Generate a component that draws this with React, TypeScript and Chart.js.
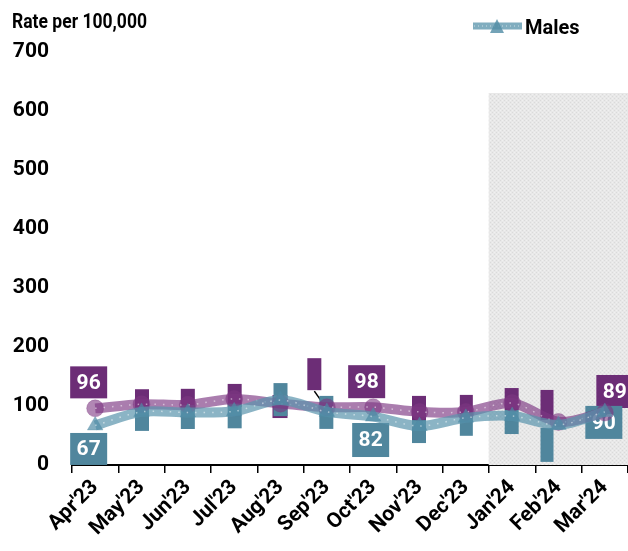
import React, { useEffect, useRef } from "react";
import { Chart, registerables } from "chart.js";

Chart.register(...registerables);

const months = ["Apr'23", "May'23", "Jun'23", "Jul'23", "Aug'23", "Sep'23", "Oct'23", "Nov'23", "Dec'23", "Jan'24", "Feb'24", "Mar'24"];
const femalesRate = [96, 103, 102, 112, 104, 98, 98, 90, 90, 105, 73, 89];
const malesRate = [67, 90, 89, 91, 110, 90, 82, 66, 80, 83, 68, 90];
const shadedPeriod = [null, null, null, null, null, null, null, null, null, 630, 630, 630];
const yTicks = [0, 100, 200, 300, 400, 500, 600, 700];
const labelledPoints = [0, 6, 11];

const FONT = "Roboto, 'Liberation Sans', sans-serif";
const PURPLE_BOX = "rgb(108,45,118)";
const TEAL_BOX = "rgb(80,134,157)";

// label box placement relative to point centre: [dx, dy, w, h]
const purpleBoxes: number[][] = [
  [-25, -42, 37, 32], [-6.5, -15, 14, 23], [-7, -16, 14, 23], [-6.5, -15, 14, 23],
  [-8, -8.6, 15, 23], [-19.5, -49, 14, 32], [-25, -42, 37, 33], [-7.5, -16, 14, 26],
  [-6, -17, 13, 24], [-7.5, -15, 14, 22], [-18, -32, 13, 30], [-8.5, -37.5, 37, 33],
];
const tealBoxes: number[][] = [
  [-25, 7.5, 37, 32], [-6.5, -5, 14, 24], [-7, -7.5, 14, 24], [-6.5, -8, 14, 25],
  [-7, -17, 14, 33], [-7.5, -16, 14, 33], [-21, 6.4, 37, 34], [-7.5, -6, 14, 23],
  [-6, -3, 13, 21], [-7.5, -6, 14, 24], [-18, 3, 13, 34], [-19.5, -6, 37, 33],
];

function makePattern(): CanvasPattern | string {
  const c = document.createElement("canvas");
  c.width = 4;
  c.height = 4;
  const g = c.getContext("2d");
  if (!g) return "#e8e8e8";
  g.fillStyle = "#e8e8e8";
  g.fillRect(0, 0, 4, 4);
  g.fillStyle = "#dadada";
  g.fillRect(0, 0, 1, 1);
  g.fillRect(2, 2, 1, 1);
  g.fillStyle = "#f0f0f0";
  g.fillRect(2, 0, 1, 1);
  g.fillRect(0, 2, 1, 1);
  const p = g.createPattern(c, "repeat");
  return p || "#e8e8e8";
}

const boxPlugin = {
  id: "boxLabels",
  beforeDatasetDraw(chart: any, args: any) {
    if (args.index !== 1) return; // just before the purple line (after the shading)
    const ctx = chart.ctx;
    const pMeta = chart.getDatasetMeta(1);
    const tMeta = chart.getDatasetMeta(3);
    ctx.save();
    const drawSet = (meta: any, boxes: number[][], color: string, values: number[]) => {
      meta.data.forEach((pt: any, i: number) => {
        const b = boxes[i];
        ctx.fillStyle = color;
        ctx.fillRect(pt.x + b[0], pt.y + b[1], b[2], b[3]);
        if (labelledPoints.includes(i)) {
          ctx.fillStyle = "#ffffff";
          ctx.font = `bold 21px ${FONT}`;
          ctx.textAlign = "center";
          ctx.textBaseline = "middle";
          ctx.fillText(String(values[i]), pt.x + b[0] + b[2] / 2, pt.y + b[1] + b[3] / 2 + 1);
        }
      });
    };
    drawSet(pMeta, purpleBoxes, PURPLE_BOX, femalesRate);
    const sp = pMeta.data[5];
    ctx.strokeStyle = "#000";
    ctx.lineWidth = 1.5;
    ctx.beginPath();
    ctx.moveTo(sp.x - 12.5, sp.y - 16);
    ctx.lineTo(sp.x - 0.5, sp.y + 1);
    ctx.stroke();
    drawSet(tMeta, tealBoxes, TEAL_BOX, malesRate);
    ctx.restore();
  },
  afterDraw(chart: any) {
    const ctx = chart.ctx;
    ctx.save();
    ctx.fillStyle = "#000";
    ctx.font = `bold 20px ${FONT}`;
    ctx.textAlign = "left";
    ctx.textBaseline = "alphabetic";
    const title = "Rate per 100,000";
    const tw = ctx.measureText(title).width;
    ctx.save();
    ctx.translate(12, 28);
    ctx.scale(135 / tw, 1.05);
    ctx.fillText(title, 0, 0);
    ctx.restore();
    // legend
    ctx.strokeStyle = "rgba(85,145,170,0.75)";
    ctx.lineWidth = 7;
    ctx.beginPath();
    ctx.moveTo(473, 26);
    ctx.lineTo(522, 26);
    ctx.stroke();
    ctx.strokeStyle = "rgba(255,255,255,0.6)";
    ctx.lineWidth = 1;
    ctx.setLineDash([1, 3]);
    ctx.beginPath();
    ctx.moveTo(474, 26);
    ctx.lineTo(521, 26);
    ctx.stroke();
    ctx.setLineDash([]);
    ctx.fillStyle = "rgba(80,140,165,0.8)";
    ctx.beginPath();
    ctx.moveTo(497, 19);
    ctx.lineTo(504, 33);
    ctx.lineTo(490, 33);
    ctx.closePath();
    ctx.fill();
    ctx.fillStyle = "#000";
    ctx.fillText("Males", 525, 34);
    ctx.restore();
  },
};

export default function App() {
  const ref = useRef<HTMLCanvasElement>(null);
  useEffect(() => {
    if (!ref.current) return;
    const pattern = makePattern();
    const chart = new Chart(ref.current, {
      type: "line",
      data: {
        labels: months,
        datasets: [
          {
            type: "bar",
            label: "shade",
            data: shadedPeriod as any,
            backgroundColor: pattern as any,
            barPercentage: 1,
            categoryPercentage: 1,
            order: 5,
          } as any,
          {
            label: "Females",
            data: femalesRate,
            borderColor: "rgba(125,55,130,0.65)",
            borderWidth: 10,
            tension: 0.3,
            pointStyle: "circle",
            pointRadius: 8.5,
            pointBackgroundColor: "rgba(125,55,130,0.6)",
            pointBorderColor: "rgba(125,55,130,0.3)",
            pointBorderWidth: 1,
            order: 4,
          },
          {
            label: "Females dots",
            data: femalesRate,
            borderColor: "rgba(255,255,255,0.5)",
            borderWidth: 1.5,
            borderDash: [1.5, 7],
            tension: 0.3,
            pointRadius: 0,
            order: 3,
          },
          {
            label: "Males",
            data: malesRate,
            borderColor: "rgba(90,148,172,0.7)",
            borderWidth: 10,
            tension: 0.3,
            pointStyle: "triangle",
            pointRadius: 9,
            pointBackgroundColor: "rgba(80,140,165,0.7)",
            pointBorderColor: "rgba(80,140,165,0.3)",
            pointBorderWidth: 1,
            order: 2,
          },
          {
            label: "Males dots",
            data: malesRate,
            borderColor: "rgba(255,255,255,0.5)",
            borderWidth: 1.5,
            borderDash: [1.5, 7],
            tension: 0.3,
            pointRadius: 0,
            order: 1,
          },
        ],
      },
      options: {
        animation: false,
        responsive: false,
        layout: { autoPadding: false, padding: { top: 52, left: 0, right: -2, bottom: 0 } },
        plugins: {
          legend: { display: false },
          tooltip: { enabled: false },
        },
        scales: {
          x: {
            offset: true,
            grid: {
              offset: true,
              display: true,
              drawOnChartArea: false,
              tickLength: 8,
              color: "#000",
              lineWidth: 1.5,
            },
            border: { display: true, color: "#000", width: 2 },
            ticks: {
              autoSkip: false,
              maxRotation: 45,
              minRotation: 45,
              color: "#000",
              font: { family: FONT, size: 21, weight: "bold" },
              padding: 2,
            },
            afterFit: (s: any) => {
              s.height = 86;
              s.paddingRight = 0;
            },
          },
          y: {
            min: 0,
            max: 700,
            afterBuildTicks: (s: any) => {
              s.ticks = yTicks.map((v) => ({ value: v }));
            },
            grid: { display: false, drawTicks: false },
            border: { display: false },
            ticks: {
              color: "#000",
              padding: 23,
              font: { family: FONT, size: 21, weight: "bold" },
            },
            afterFit: (s: any) => {
              s.width = 72;
            },
          },
        },
      },
      plugins: [boxPlugin],
    });
    return () => chart.destroy();
  }, []);
  return (
    <div style={{ position: "absolute", left: 0, top: 0, width: 628, height: 551, background: "#fff", overflow: "hidden" }}>
      <canvas ref={ref} width={628} height={551} style={{ display: "block" }} />
    </div>
  );
}
